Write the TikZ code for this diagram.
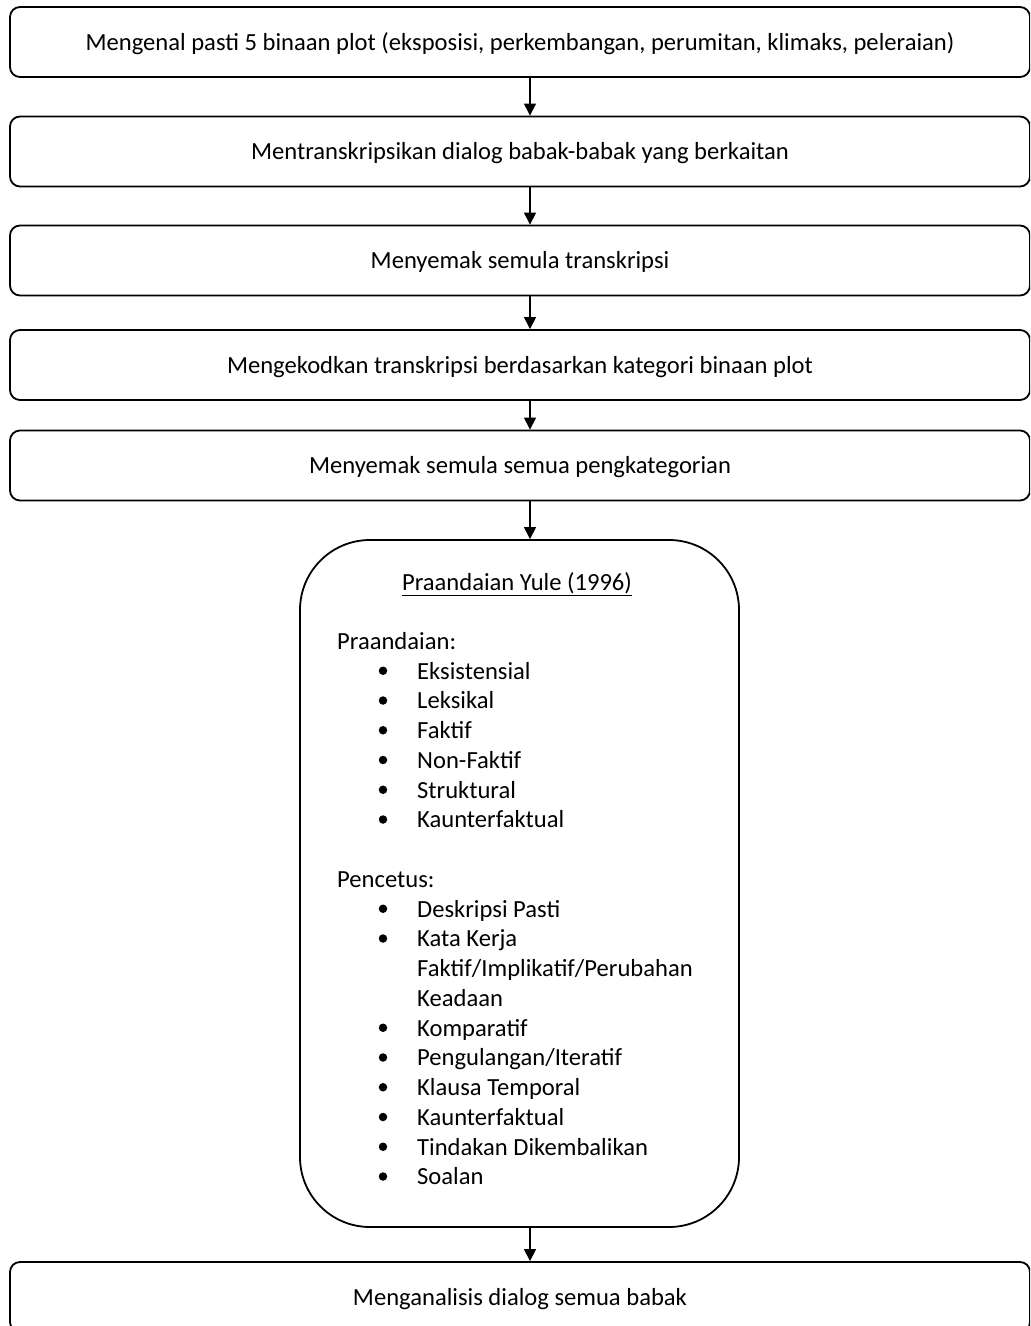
\documentclass[tikz,border=0pt]{standalone}
\usepackage{fontspec}
\setmainfont{Carlito}
\usetikzlibrary{arrows.meta}
\begin{document}
\begin{tikzpicture}[x=1bp,y=-1bp,
  every node/.style={font=\fontsize{24.6bp}{29bp}\selectfont, inner sep=0pt, text height=17.5bp, text depth=1bp},
  stepbox/.style={draw=black, line width=1.8bp, rounded corners=10bp, minimum width=1020bp, minimum height=70bp},
  bigbox/.style={draw=black, line width=1.8bp, rounded corners=70bp, minimum width=439bp, minimum height=687bp},
  flow/.style={draw=black, line width=1.2bp, -{Triangle[length=12bp,width=12bp]}},
  item/.style={anchor=west},
  dot/.style={circle, fill=black, minimum size=8.5bp, inner sep=0pt, text height=, text depth=}
]
\useasboundingbox (0,0) rectangle (1030,1326);
\fill[white] (0,0) rectangle (1030,1326);
\clip (0,0) rectangle (1030,1326);
\coordinate (ax) at (530,0);
\node[stepbox] (b1) at (520,42) {Mengenal pasti 5 binaan plot (eksposisi, perkembangan, perumitan, klimaks, peleraian)};
\node[stepbox] (b2) at (520,151.5) {Mentranskripsikan dialog babak-babak yang berkaitan};
\node[stepbox] (b3) at (520,260.5) {Menyemak semula transkripsi};
\node[stepbox] (b4) at (520,365) {Mengekodkan transkripsi berdasarkan kategori binaan plot};
\node[stepbox] (b5) at (520,465.5) {Menyemak semula semua pengkategorian};
\node[bigbox] (big) at (519.5,883.5) {};
\node[stepbox] (b6) at (520,1297) {Menganalisis dialog semua babak};

\node (title) at (517,582) {\underline{Praandaian Yule (1996)}};
\node[item] (h1) at (337,641) {Praandaian:};
\node[item] (h2) at (337,{641+29.75*8}) {Pencetus:};
\foreach \k/\t in {1/Eksistensial, 2/Leksikal, 3/Faktif, 4/Non-Faktif, 5/Struktural, 6/Kaunterfaktual,
  9/Deskripsi Pasti, 10/Kata Kerja, 13/Komparatif, 14/Pengulangan\slash Iteratif, 15/Klausa Temporal,
  16/Kaunterfaktual, 17/Tindakan Dikembalikan, 18/Soalan}{
  \node[dot] (d\k) at (383,{641+29.75*\k}) {};
  \node[item] (i\k) at (417,{641+29.75*\k}) {\t};
}
\node[item] (i11) at (417,{641+29.75*11}) {Faktif/Implikatif/Perubahan};
\node[item] (i12) at (417,{641+29.75*12}) {Keadaan};

\draw[flow] (b1.south -| ax) -- (b2.north -| ax);
\draw[flow] (b2.south -| ax) -- (b3.north -| ax);
\draw[flow] (b3.south -| ax) -- (b4.north -| ax);
\draw[flow] (b4.south -| ax) -- (b5.north -| ax);
\draw[flow] (b5.south -| ax) -- (big.north -| ax);
\draw[flow] (big.south -| ax) -- (b6.north -| ax);
\end{tikzpicture}
\end{document}
